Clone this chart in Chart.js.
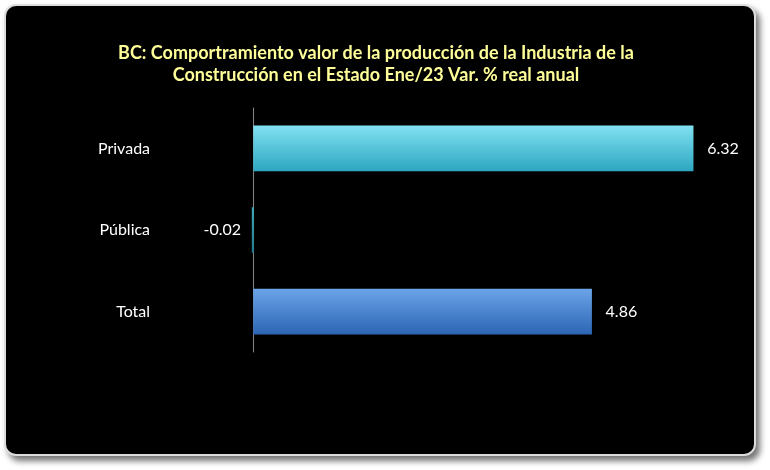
<!DOCTYPE html>
<html>
<head>
<meta charset="utf-8">
<script src="https://cdn.jsdelivr.net/npm/chart.js@4"></script>
<style>
	body { margin: 0; background: #fff; }
	#box {
		position: absolute; left: 4px; top: 4px; width: 748px; height: 448px;
		background: #000; border: 2px solid #ddd; border-radius: 12px;
		box-shadow: 4px 5px 6px rgba(0,0,0,0.55);
	}
	#box canvas { position: absolute; left: 0; top: 0; }
</style>
</head>
<body>
<div id="box"><canvas id="chart" width="748" height="448"></canvas></div>
<script>
const categories = ["Privada", "Pública", "Total"];
const values = [6.32, -0.02, 4.86];
const titleLines = ["BC: Comportramiento valor de la producción de la Industria de la",
	"Construcción en el Estado Ene/23 Var. % real anual"];

//top/bottom colours of each bar's gradient
const barColors = [["#7fe0f0", "#2fa7c2"], ["#3aa6b8", "#1c7d8c"], ["#6aa3e6", "#2d66b4"]];

document.addEventListener("DOMContentLoaded", () => {

	const zeroLine = {
		id: "zeroLine",
		beforeDatasetsDraw(chart) {
			const x = chart.scales.x.getPixelForValue(0);
			const ctx = chart.ctx;
			ctx.save();
			ctx.strokeStyle = "#888";
			ctx.lineWidth = 1;
			ctx.beginPath();
			ctx.moveTo(x, chart.chartArea.top);
			ctx.lineTo(x, chart.chartArea.bottom);
			ctx.stroke();
			ctx.restore();
		}
	};

	const valueLabels = {
		id: "valueLabels",
		afterDatasetsDraw(chart) {
			const ctx = chart.ctx;
			ctx.save();
			ctx.font = "16px Lato";
			ctx.fillStyle = "#fff";
			ctx.textBaseline = "middle";
			chart.getDatasetMeta(0).data.forEach((bar, i) => {
				const v = values[i];
				if (v >= 0) {
					ctx.textAlign = "left";
					ctx.fillText(v.toFixed(2), bar.x + 14, bar.y);
				} else {
					ctx.textAlign = "right";
					ctx.fillText(v.toFixed(2), bar.x - 11, bar.y);
				}
			});
			ctx.restore();
		}
	};

	new Chart(document.getElementById("chart"), {
		type: "bar",
		data: {
			labels: categories,
			datasets: [{
				data: values,
				barThickness: 45,
				borderWidth: 0,
				backgroundColor: (c) => {
					const cols = barColors[c.dataIndex] || barColors[0];
					const yScale = c.chart.scales.y;
					const yc = yScale ? yScale.getPixelForValue(c.dataIndex) : NaN;
					if (!Number.isFinite(yc)) return cols[1];
					const g = c.chart.ctx.createLinearGradient(0, yc - 22, 0, yc + 22);
					g.addColorStop(0, cols[0]);
					g.addColorStop(1, cols[1]);
					return g;
				}
			}]
		},
		options: {
			indexAxis: "y",
			responsive: false,
			animation: false,
			layout: { padding: { top: 0, right: 8, bottom: 16, left: 0 } },
			plugins: {
				legend: { display: false },
				tooltip: { enabled: false },
				title: {
					display: true,
					text: titleLines,
					color: "#ffff99",
					font: { family: "Lato", size: 18, weight: "bold" },
					padding: { top: 22, bottom: 22 },
					lineHeight: 1.35
				}
			},
			scales: {
				x: {
					min: -0.05, max: 7.08,
					display: false
				},
				y: {
					grid: { display: false },
					border: { display: false },
					ticks: {
						color: "#fff",
						font: { family: "Lato", size: 16 },
						padding: 92
					}
				}
			}
		},
		plugins: [zeroLine, valueLabels]
	});
});
</script>
</body>
</html>
